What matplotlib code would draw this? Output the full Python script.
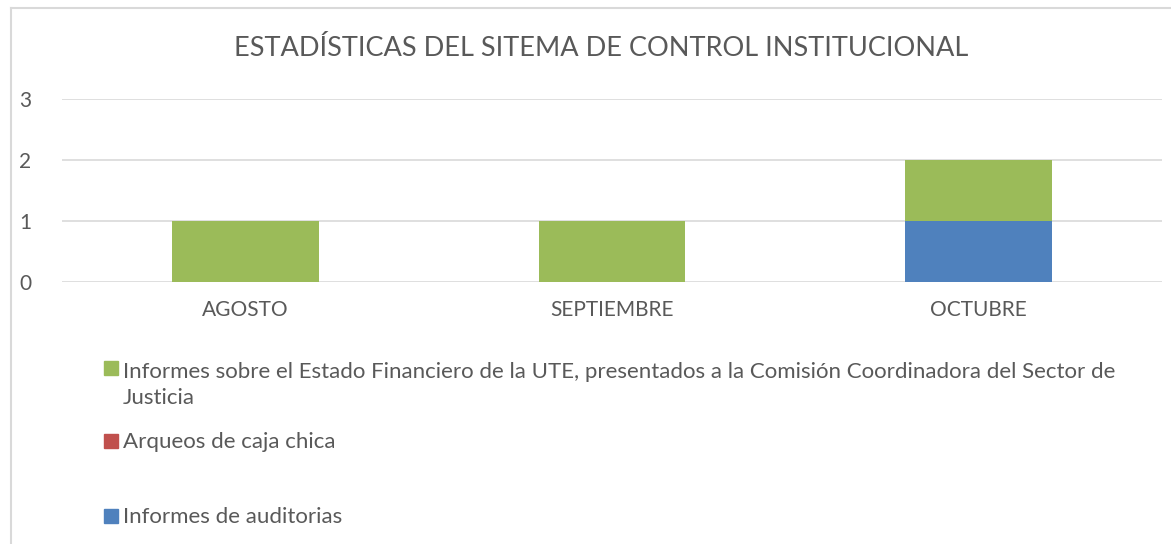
import matplotlib
matplotlib.use("Agg")
import matplotlib.pyplot as plt
from matplotlib.patches import Rectangle
from matplotlib.lines import Line2D
import numpy as np

categories = ["AGOSTO", "SEPTIEMBRE", "OCTUBRE"]
series_names = [
    "Informes sobre el Estado Financiero de la UTE, presentados a la Comisión Coordinadora del Sector de\nJusticia",
    "Arqueos de caja chica",
    "Informes de auditorias",
]
informes_financieros = [1, 1, 1]
arqueos = [0, 0, 0]
auditorias = [0, 0, 1]
colors = ["#9BBB59", "#C0504D", "#4F81BD"]
title = "ESTADÍSTICAS DEL SITEMA DE CONTROL INSTITUCIONAL"
yticks = [0, 1, 2, 3]

W, H = 1171, 544
plt.rcParams['font.family'] = ['Lato', 'DejaVu Sans']
fig = plt.figure(figsize=(W / 100, H / 100), dpi=100)

# axes: x from 62 to 1162, y from 99 (3) to 282 (0)
ax = fig.add_axes([62 / W, 1 - 282 / H, 1100 / W, 183 / H])
x = np.arange(len(categories))
bw = 0.4
bottom = np.zeros(len(categories))
for vals, col in [(auditorias, colors[2]), (arqueos, colors[1]), (informes_financieros, colors[0])]:
    v = np.array(vals, dtype=float)
    ax.bar(x, v, bw, bottom=bottom, color=col, zorder=3)
    bottom += v

ax.set_xlim(-0.5, len(categories) - 0.5)
ax.set_ylim(0, 3)
ax.set_yticks(yticks)
ax.set_yticklabels([str(t) for t in yticks])
ax.set_xticks(x)
ax.set_xticklabels(categories)
ax.tick_params(axis='both', length=0, labelsize=15, colors="#595959")
ax.tick_params(axis='y', pad=22)
ax.tick_params(axis='x', pad=13)
ax.grid(axis='y', color="#D9D9D9", linewidth=1.2, zorder=0)
for s in ax.spines.values():
    s.set_visible(False)

fig.text(601 / W, 1 - 48 / H, title, ha='center', va='center', fontsize=19.5, color="#595959")

# legend (manual layout)
leg_y = [368, 441, 516]
leg_order = [0, 1, 2]
line_gap = 29
for yy, i in zip(leg_y, leg_order):
    fig.patches.append(Rectangle((104 / W, 1 - (yy + 7) / H), 14 / W, 14 / H,
                                 transform=fig.transFigure, color=colors[i]))
    nlines = series_names[i].count("\n") + 1
    base = yy + 7 + line_gap * (nlines - 1)
    fig.text(123 / W, 1 - base / H, series_names[i], ha='left', va='baseline',
             fontsize=16, color="#595959", linespacing=1.4)

# chart border
fig.lines.append(Line2D([10.5 / W, 10.5 / W], [0, 1 - 7.5 / H], transform=fig.transFigure, color="#D9D9D9", lw=1.5))
fig.lines.append(Line2D([10.5 / W, 1], [1 - 7.5 / H, 1 - 7.5 / H], transform=fig.transFigure, color="#D9D9D9", lw=1.5))

fig.savefig("out.png", dpi=100)
